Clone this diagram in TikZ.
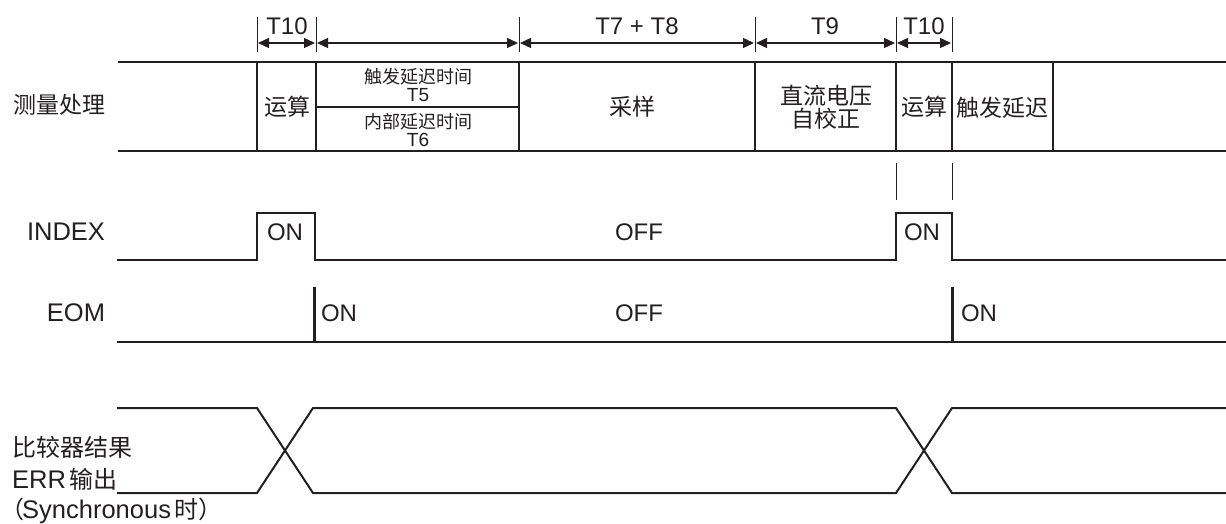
\documentclass[tikz,border=0pt]{standalone}
\usepackage{fontspec}
\setmainfont{Liberation Sans}
\newfontfamily\cjk{Noto Sans CJK SC}
\usetikzlibrary{arrows.meta}
\definecolor{ink}{HTML}{231F20}
\begin{document}
\begin{tikzpicture}[x=1pt,y=-1pt,
  every node/.style={text=ink, inner sep=0pt},
  wave/.style={draw=ink, line width=2pt, line join=miter},
  tick/.style={draw=ink, line width=1pt},
  dimarrow/.style={draw=ink, line width=1.3pt, {Triangle[length=11pt,width=10pt]}-{Triangle[length=11pt,width=10pt]}},
  toplab/.style={font=\fontsize{24}{28}\selectfont},
  rowlab/.style={font=\fontsize{25.5}{30}\selectfont},
  sig/.style={font=\fontsize{24}{28}\selectfont},
  cjkbig/.style={font=\cjk\fontsize{23}{27}\selectfont},
  cjksmall/.style={font=\cjk\fontsize{18}{20}\selectfont},
  latsmall/.style={font=\fontsize{19}{21}\selectfont},
]
\useasboundingbox (0,0) rectangle (1226,524);

% ---------- dimension arrows ----------
\foreach \x/\n in {257/a,316/b,519/c,755/d,896/e,952/f}{
  \coordinate (t\n top) at (\x,17);
  \coordinate (t\n bot) at (\x,52);
  \coordinate (t\n) at (\x,43);
  \draw[tick] (t\n top) -- (t\n bot);
}
\draw[dimarrow] ([xshift=1pt]ta) -- ([xshift=-1pt]tb);
\draw[dimarrow] ([xshift=1pt]tb) -- ([xshift=-1pt]tc);
\draw[dimarrow] ([xshift=1pt]tc) -- ([xshift=-1pt]td);
\draw[dimarrow] ([xshift=1pt]td) -- ([xshift=-1pt]te);
\draw[dimarrow] ([xshift=1pt]te) -- ([xshift=-1pt]tf);
\node[toplab, anchor=base] (l1) at (287,35) {T10};
\node[toplab, anchor=base] (l2) at (637,35) {T7 + T8};
\node[toplab, anchor=base] (l3) at (825,35) {T9};
\node[toplab, anchor=base] (l4) at (924,35) {T10};

% ---------- measurement row ----------
\draw[wave] (118,62) -- (1226,62);
\draw[wave] (118,151) -- (1226,151);
\foreach \x in {257,316,519,755,896,952,1053}{
  \draw[wave] (\x,62) -- (\x,151);
}
\draw[wave] (316,107) -- (519,107);
\node[cjkbig] (m0) at (59,105) {测量处理};
\node[cjkbig] (m1) at (287,107) {运算};
\node[cjksmall] (m2a) at (418,77) {触发延迟时间};
\node[latsmall] (m2b) at (418,95) {T5};
\node[cjksmall] (m3a) at (418,122) {内部延迟时间};
\node[latsmall] (m3b) at (418,140) {T6};
\node[cjkbig] (m4) at (632,107) {采样};
\node[cjkbig] (m5a) at (826,96) {直流电压};
\node[cjkbig] (m5b) at (826,119) {自校正};
\node[cjkbig] (m6) at (924,107) {运算};
\node[cjkbig] (m7) at (1002,108) {触发延迟};

% small guide lines
\draw[tick] (896,163) -- (896,200);
\draw[tick] (952,163) -- (952,200);

% ---------- INDEX ----------
\node[rowlab] (idx) at (66,232) {INDEX};
\draw[wave] (117,260) -- (257,260) -- (257,213) -- (315,213) -- (315,260)
  -- (896,260) -- (896,213) -- (952,213) -- (952,260) -- (1226,260);
\node[sig] (on1) at (285,232) {ON};
\node[sig] (off1) at (639,232) {OFF};
\node[sig] (on2) at (922,232) {ON};

% ---------- EOM ----------
\node[rowlab] (eom) at (76,313) {EOM};
\draw[wave] (117,342) -- (1226,342);
\draw[draw=ink, line width=3pt] (314,287) -- (314,342);
\draw[draw=ink, line width=3pt] (952,287) -- (952,342);
\node[sig] (on3) at (339,313) {ON};
\node[sig] (off2) at (639,313) {OFF};
\node[sig] (on4) at (979,313) {ON};

% ---------- comparator ----------
\draw[wave] (117,408) -- (257,408) -- (313,493) -- (896,493) -- (952,408) -- (1226,408);
\draw[wave] (117,493) -- (257,493) -- (313,408) -- (896,408) -- (952,493) -- (1226,493);
\node[cjkbig, font=\cjk\fontsize{24}{28}\selectfont, anchor=base west] (c1) at (12,456) {比较器结果};
\node[rowlab, anchor=base west] (c2) at (12,488) {ERR\kern3pt{\cjk\fontsize{24}{28}\selectfont 输出}};
\node[rowlab, anchor=base west] (c3) at (0,518) {{\cjk\fontsize{24}{28}\selectfont （}\kern-2pt Synchronous\kern3pt{\cjk\fontsize{24}{28}\selectfont 时）}};
\end{tikzpicture}
\end{document}
